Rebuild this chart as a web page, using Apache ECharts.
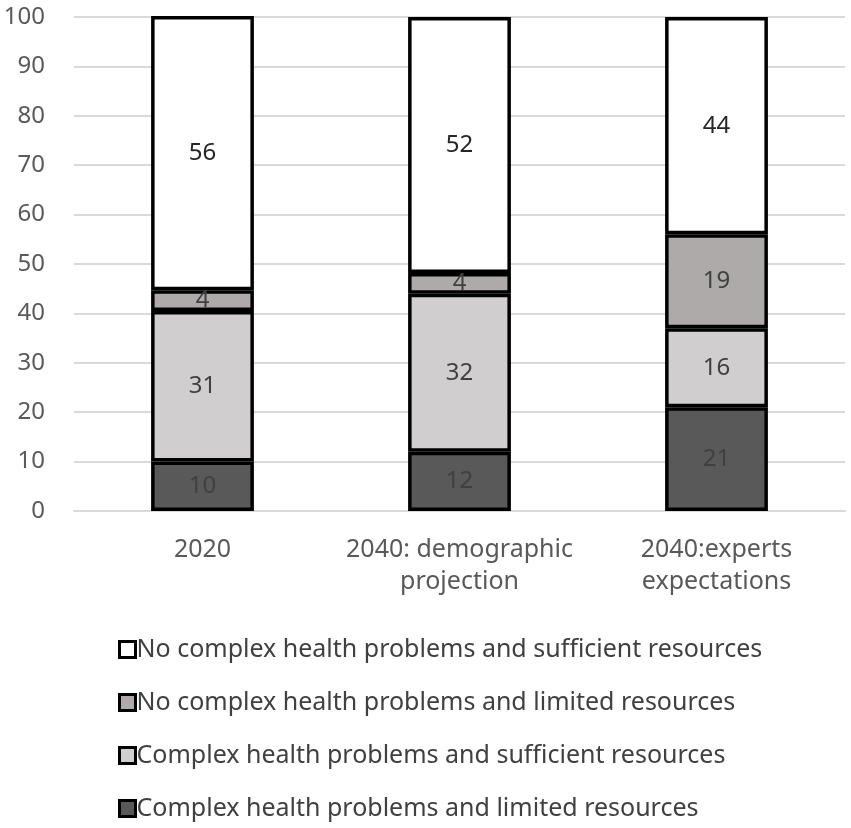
<!DOCTYPE html>
<html>
	<head>
		<meta charset="utf-8" />
		<title>Health and resources</title>
		<style type="text/css">
			body,
			html,
			#chart {
				width: 100%;
				height: 100%;
				overflow: hidden;
				margin: 0;
				background: #fff;
			}
		</style>
	</head>
	<body>
		<div id="chart"></div>
		<script src="https://cdn.jsdelivr.net/npm/echarts@6/dist/echarts.min.js"></script>
		<script>
			// categories and values
			var categories = ['2020', '2040: demographic\nprojection', '2040:experts\nexpectations'];
			var complexLimited = [10, 12, 21];
			var complexSufficient = [30.5, 32, 16];
			var noComplexLimited = [4.2, 4.2, 19];
			var noComplexSufficient = [55.5, 51.8, 44];
			var yTicks = [0, 10, 20, 30, 40, 50, 60, 70, 80, 90, 100];

			var names = [
				'No complex health problems and sufficient resources',
				'No complex health problems and limited resources',
				'Complex health problems and sufficient resources',
				'Complex health problems and limited resources'
			];

			var font = 'Noto Sans';
			var chart = echarts.init(document.getElementById('chart'));

			function barSeries(name, data, color, labelColor) {
				return {
					name: name,
					type: 'bar',
					stack: 'total',
					data: data,
					barCategoryGap: '60%',
					itemStyle: { color: color, borderColor: '#000', borderWidth: 3.5 },
					label: {
						show: true,
						position: 'inside',
						color: labelColor,
						fontFamily: font,
						fontSize: 24,
						formatter: function (p) {
							return Math.round(p.value);
						}
					}
				};
			}

			var option = {
				animation: false,
				grid: { left: 74, right: 6, top: 17, bottom: 317 },
				legend: {
					orient: 'vertical',
					left: 113,
					top: 632,
					itemWidth: 16,
					itemHeight: 16,
					itemGap: 28,
					icon: 'rect',
					// legend reads top to bottom from the top of the stack
					data: names,
					textStyle: { fontFamily: font, fontSize: 25, color: '#404040', padding: [0, 0, 0, -4] },
					itemStyle: { borderColor: '#000', borderWidth: 3 }
				},
				xAxis: {
					type: 'category',
					data: categories,
					axisLine: { lineStyle: { color: '#d9d9d9', width: 2 } },
					axisTick: { show: false },
					axisLabel: {
						interval: 0,
						hideOverlap: false,
						fontFamily: font,
						fontSize: 25,
						color: '#595959',
						lineHeight: 32,
						margin: 23
					}
				},
				yAxis: {
					type: 'value',
					min: yTicks[0],
					max: yTicks[yTicks.length - 1],
					interval: 10,
					axisLine: { show: false },
					axisTick: { show: false },
					splitLine: { lineStyle: { color: '#d9d9d9', width: 2 } },
					axisLabel: { fontFamily: font, fontSize: 24, color: '#595959', margin: 29 }
				},
				series: [
					barSeries(names[3], complexLimited, '#595959', '#404040'),
					barSeries(names[2], complexSufficient, '#d0cece', '#404040'),
					barSeries(names[1], noComplexLimited, '#aeaaaa', '#404040'),
					barSeries(names[0], noComplexSufficient, '#ffffff', '#262626')
				]
			};
			chart.setOption(option);
		</script>
	</body>
</html>
